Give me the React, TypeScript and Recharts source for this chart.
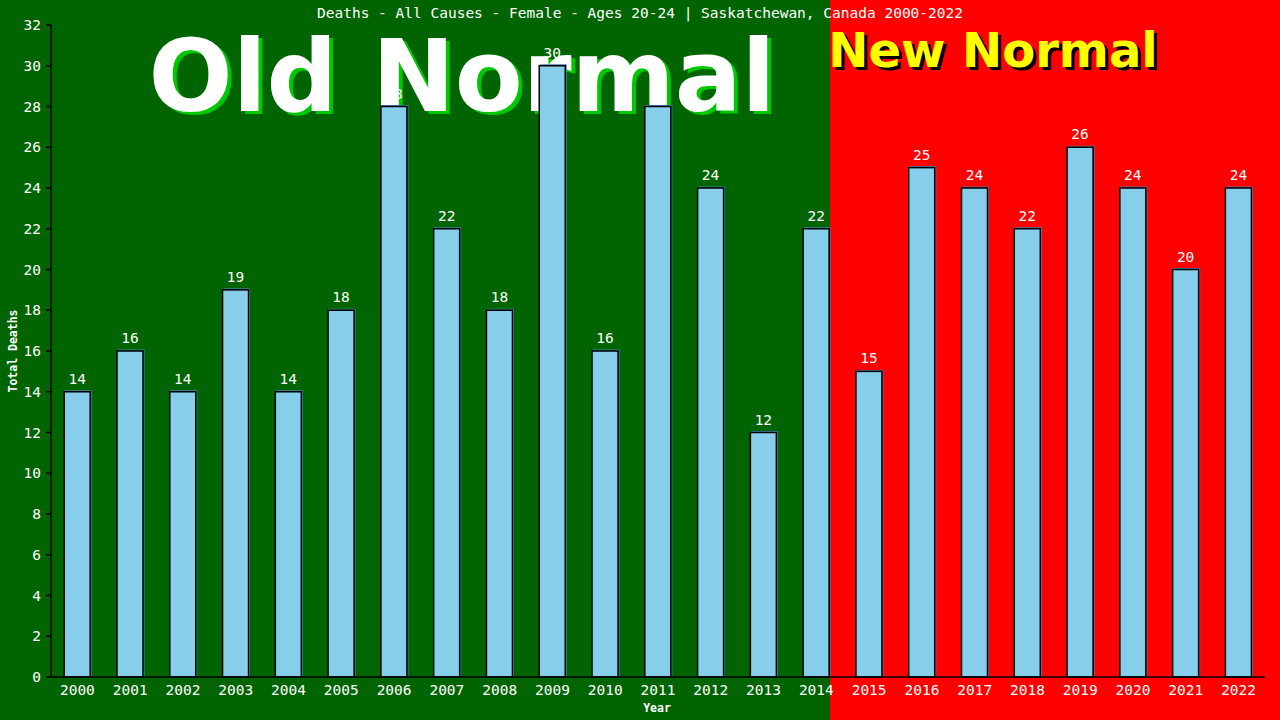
import React from 'react';
import { BarChart, Bar, XAxis, YAxis, LabelList } from 'recharts';

const years = ['2000','2001','2002','2003','2004','2005','2006','2007','2008','2009','2010','2011','2012','2013','2014','2015','2016','2017','2018','2019','2020','2021','2022'];
const deaths = [14,16,14,19,14,18,28,22,18,30,16,28,24,12,22,15,25,24,22,26,24,20,24];
const yTicks = [0,2,4,6,8,10,12,14,16,18,20,22,24,26,28,30,32];
const title = 'Deaths - All Causes - Female - Ages 20-24 | Saskatchewan, Canada 2000-2022';

const data = years.map((y, i) => ({ year: y, deaths: deaths[i] }));

const W = 1280;
const H = 720;
const PLOT_LEFT = 51;
const PLOT_RIGHT = 1265;
const PLOT_TOP = 25;
const PLOT_BOTTOM = 677;
const BAND = (PLOT_RIGHT - PLOT_LEFT) / years.length;
const SPLIT_X = PLOT_LEFT + BAND * 14.75;
const MONO = '"DejaVu Sans Mono", monospace';
const SANS = '"DejaVu Sans", sans-serif';

const BarShape = (props: any) => {
  const { x, y, width, height } = props;
  if (height == null || height <= 0) return null;
  return (
    <g>
      <rect x={x + 1} y={y - 1} width={width} height={height + 1} fill="none" stroke="#4682B4" strokeWidth={1} />
      <rect x={x} y={y} width={width} height={height} fill="#87CEEB" stroke="#000" strokeWidth={1.5} />
    </g>
  );
};

export default function App() {
  return (
    <div style={{ position: 'absolute', left: 0, top: 0, width: W, height: H, overflow: 'hidden' }}>
      <div style={{ position: 'absolute', left: 0, top: 0, width: SPLIT_X, height: H, background: '#006400' }} />
      <div style={{ position: 'absolute', left: SPLIT_X, top: 0, width: W - SPLIT_X, height: H, background: '#ff0000' }} />
      <svg width={W} height={H} style={{ position: 'absolute', left: 0, top: 0 }}>
        <text x={640} y={18} fill="#fff" fontFamily={MONO} fontSize={14.5} textAnchor="middle">{title}</text>
        <text x={466} y={114} fill="#00c800" fontFamily={SANS} fontWeight="bold" fontSize={99} textAnchor="middle">Old Normal</text>
        <text x={462} y={111} fill="#fff" fontFamily={SANS} fontWeight="bold" fontSize={99} textAnchor="middle">Old Normal</text>
        <text x={996} y={70} fill="#000" fontFamily={SANS} fontWeight="bold" fontSize={48} textAnchor="middle">New Normal</text>
        <text x={993} y={67} fill="#ffff00" fontFamily={SANS} fontWeight="bold" fontSize={48} textAnchor="middle">New Normal</text>
        <text x={657} y={712} fill="#fff" fontFamily={MONO} fontWeight="bold" fontSize={11.5} textAnchor="middle">Year</text>
        <text transform={`translate(16.5, ${(PLOT_TOP + PLOT_BOTTOM) / 2}) rotate(-90)`} fill="#fff" fontFamily={MONO} fontWeight="bold" fontSize={11.5} textAnchor="middle">Total Deaths</text>
      </svg>
      <div style={{ position: 'absolute', left: 0, top: 0 }}>
        <BarChart
          width={W}
          height={H}
          data={data}
          margin={{ top: PLOT_TOP, right: W - PLOT_RIGHT, bottom: 0, left: 0 }}
          barCategoryGap="25%"
        >
          <XAxis
            dataKey="year"
            height={H - PLOT_BOTTOM}
            tickLine={false}
            axisLine={{ stroke: '#000', strokeWidth: 1.5 }}
            tick={{ fill: '#fff', fontSize: 14.5, fontFamily: MONO }}
            interval={0}
          />
          <YAxis
            yAxisId="left"
            width={PLOT_LEFT}
            domain={[0, 32]}
            ticks={yTicks}
            interval={0}
            tickSize={5}
            tickMargin={5}
            axisLine={{ stroke: '#000', strokeWidth: 1.5 }}
            tickLine={{ stroke: '#000', strokeWidth: 1.5 }}
            tick={{ fill: '#fff', fontSize: 14.5, fontFamily: MONO }}
          />
          <YAxis
            yAxisId="right"
            orientation="right"
            width={0}
            domain={[0, 32]}
            tick={false}
            tickLine={false}
            axisLine={{ stroke: '#000', strokeWidth: 1.5 }}
          />
          <Bar yAxisId="left" dataKey="deaths" shape={<BarShape />} isAnimationActive={false}>
            <LabelList dataKey="deaths" position="top" offset={8} fill="#fff" fontSize={14.5} fontFamily={MONO} />
          </Bar>
        </BarChart>
      </div>
    </div>
  );
}
